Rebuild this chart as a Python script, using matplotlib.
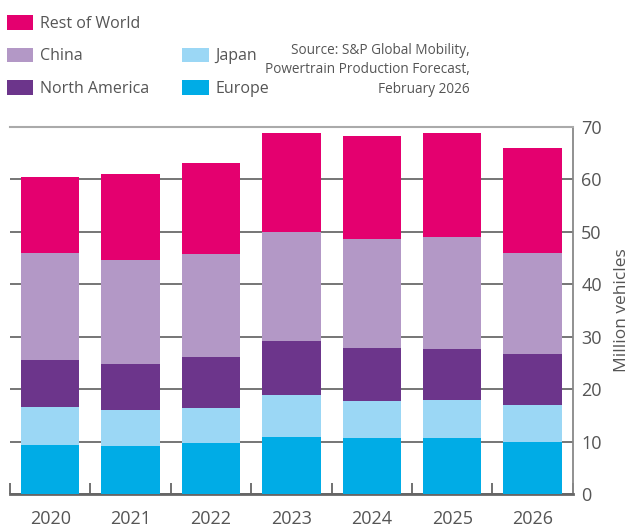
import matplotlib
matplotlib.use("Agg")
import matplotlib.pyplot as plt
from matplotlib.patches import Patch
import numpy as np

plt.rcParams['font.family'] = ['Open Sans', 'DejaVu Sans']

# date (milioane de vehicule)
years = ["2020", "2021", "2022", "2023", "2024", "2025", "2026"]
europe = [9.4, 9.2, 9.8, 10.9, 10.7, 10.7, 10.0]
japan = [7.2, 6.9, 6.6, 8.0, 7.1, 7.3, 7.0]
north_america = [9.0, 8.7, 9.8, 10.3, 10.1, 9.7, 9.7]
china = [20.4, 19.8, 19.6, 20.8, 20.7, 21.3, 19.3]
rest_of_world = [14.4, 16.4, 17.3, 18.8, 19.7, 19.8, 20.0]

series = [
    ("Europe", europe, "#00ACE6"),
    ("Japan", japan, "#9BD7F5"),
    ("North America", north_america, "#6C358B"),
    ("China", china, "#B398C6"),
    ("Rest of World", rest_of_world, "#E4006F"),
]

text_color = "#555555"

fig = plt.figure(figsize=(6.36, 5.29), dpi=100)
ax = fig.add_axes([0.0157, 0.0656, 0.885, 0.695])

x = np.arange(len(years))
bottom = np.zeros(len(years))
for name, vals, color in series:
    ax.bar(x, vals, width=0.725, bottom=bottom, color=color, zorder=3)
    bottom += np.array(vals)

ax.set_xlim(-0.5, len(years) - 0.5)
ax.set_ylim(0, 70)
ax.set_yticks(range(0, 71, 10))
ax.yaxis.tick_right()
ax.yaxis.set_label_position("right")
ax.tick_params(axis='y', length=0, pad=6, labelsize=13, labelcolor=text_color)
ax.set_ylabel("Million vehicles", fontsize=12.5, color=text_color, labelpad=9)

ax.set_xticks(x)
ax.set_xticklabels(years)
ax.tick_params(axis='x', which='major', length=0, pad=11, labelsize=13, labelcolor=text_color)
ax.set_xticks(np.arange(-0.5, len(years), 1.0), minor=True)
ax.tick_params(axis='x', which='minor', direction='in', length=8, width=1.3, color="#666666")

ax.grid(axis='y', color="#6a6a6a", linewidth=1.3, zorder=0)
ax.set_axisbelow(True)

ax.spines['left'].set_visible(False)
ax.spines['top'].set_color("#aaaaaa")
ax.spines['top'].set_linewidth(1.5)
ax.spines['right'].set_color("#888888")
ax.spines['right'].set_linewidth(1.3)
ax.spines['bottom'].set_color("#666666")
ax.spines['bottom'].set_linewidth(2)

# legenda: coloana a doua incepe cu un rand gol
h = {name: Patch(facecolor=color) for name, vals, color in series}
blank = Patch(facecolor='none', edgecolor='none')
handles = [h["Rest of World"], h["China"], h["North America"], blank, h["Japan"], h["Europe"]]
labels = ["Rest of World", "China", "North America", "", "Japan", "Europe"]
leg = fig.legend(handles, labels, ncol=2, loc='upper left', bbox_to_anchor=(0.011, 0.972),
                 frameon=False, fontsize=11.5, handlelength=1.65, handleheight=1.05,
                 labelspacing=1.0, handletextpad=0.4, columnspacing=2.1,
                 borderaxespad=0.0, borderpad=0.0)
for t in leg.get_texts():
    t.set_color(text_color)

fig.text(0.739, 0.868, "Source: S&P Global Mobility,\nPowertrain Production Forecast,\nFebruary 2026",
         ha='right', va='center', fontsize=9.8, color=text_color, linespacing=1.4)

fig.savefig("out.png", dpi=100)
